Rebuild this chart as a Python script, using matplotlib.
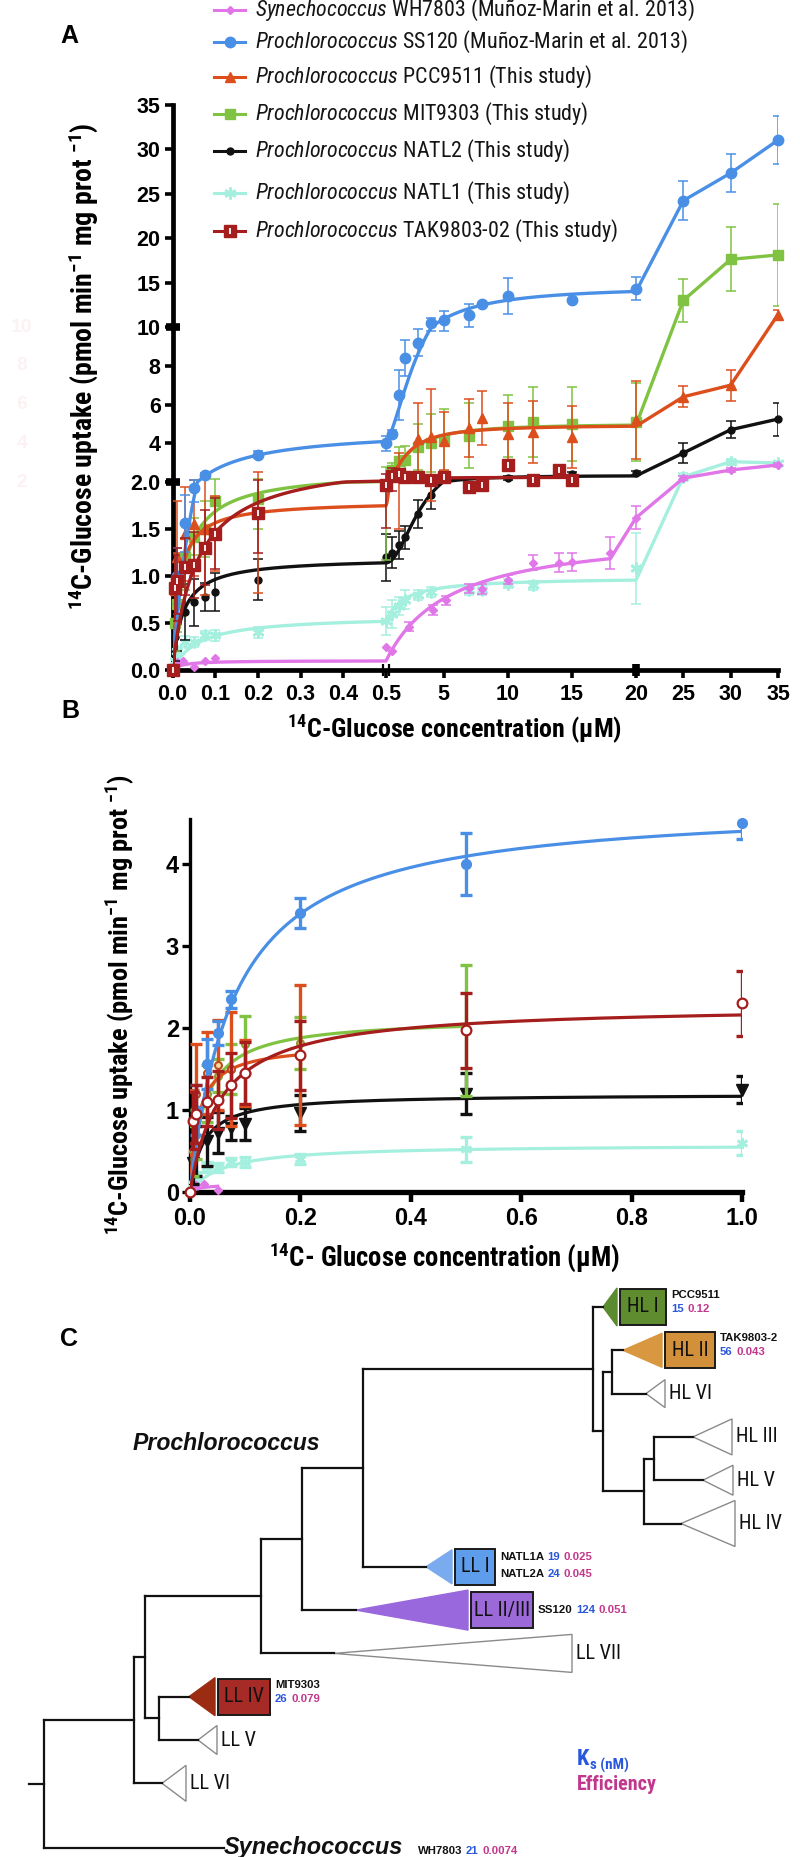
import numpy as np
import matplotlib
matplotlib.use("Agg")
import matplotlib.pyplot as plt
from matplotlib import font_manager as fm
from matplotlib.lines import Line2D
from matplotlib.patches import Polygon, Rectangle
import matplotlib.transforms as mtrans

# ============================ DATA ============================
# 14C-glucose uptake (pmol min-1 mg prot-1) versus glucose concentration (uM)
syn_x = [0.005, 0.01, 0.025, 0.05, 0.075, 0.1, 0.5, 1, 2.3, 4.2, 5.2, 7, 8, 10, 12, 14, 15, 18, 20, 25, 30, 35]
syn_y = [0.05, 0.08, 0.10, 0.03, 0.10, 0.13, 0.25, 0.20, 0.46, 0.64, 0.74, 0.87, 0.86, 0.96, 1.14, 1.14, 1.15, 1.24, 1.62, 2.20, 2.62, 2.88]
syn_e = [0, 0, 0, 0, 0, 0, 0, 0, 0.05, 0.05, 0.05, 0.05, 0.05, 0.05, 0.08, 0.10, 0.10, 0.17, 0.12, 0.10, 0.10, 0.10]

ss120_x = [0.01, 0.03, 0.05, 0.075, 0.2, 0.5, 1, 1.5, 2, 3, 4, 5, 7, 8, 10, 15, 20, 25, 30, 35]
ss120_y = [1.00, 1.56, 1.94, 2.35, 3.40, 4.00, 4.50, 6.50, 8.40, 9.20, 10.4, 10.8, 11.3, 12.6, 13.5, 13.0, 14.3, 24.2, 27.3, 31.0]
ss120_e = [0.30, 0.30, 0.15, 0.10, 0.18, 0.38, 0.20, 1.30, 0.95, 0.70, 0.60, 1.00, 1.30, 0.00, 2.00, 0.00, 1.30, 2.20, 2.10, 2.70]

pcc_x = [0.005, 0.01, 0.03, 0.05, 0.075, 0.1, 0.2, 1.5, 3, 4, 5, 7, 8, 10, 12, 15, 20, 25, 30, 35]
pcc_y = [0.85, 1.20, 1.45, 1.55, 1.50, 1.45, 1.67, 2.50, 4.20, 4.30, 4.10, 4.80, 5.30, 4.50, 4.60, 4.30, 5.20, 6.40, 7.00, 11.4]
pcc_e = [0.40, 0.60, 0.50, 0.55, 0.70, 0.40, 0.85, 1.00, 1.90, 2.50, 1.50, 1.50, 1.40, 1.60, 1.60, 1.60, 2.00, 0.55, 0.80, 0.50]

mit_x = [0.005, 0.01, 0.03, 0.05, 0.075, 0.1, 0.2, 0.5, 1, 1.5, 2, 3, 4, 5, 7, 10, 12, 15, 20, 25, 30, 35]
mit_y = [0.50, 0.70, 1.20, 1.42, 1.50, 1.80, 1.82, 1.97, 2.60, 3.10, 3.15, 3.80, 4.00, 4.15, 4.40, 4.90, 5.10, 5.00, 5.10, 13.0, 17.6, 18.1]
mit_e = [0.30, 0.30, 0.35, 0.20, 0.30, 0.35, 0.32, 0.80, 0.40, 0.70, 0.70, 1.20, 1.50, 1.60, 1.70, 1.60, 1.80, 1.90, 2.00, 2.40, 3.60, 5.70]

natl2_x = [0.005, 0.01, 0.03, 0.05, 0.075, 0.1, 0.2, 0.5, 1, 1.5, 2, 3, 4, 10, 15, 20, 25, 30, 35]
natl2_y = [0.35, 0.50, 0.62, 0.72, 0.78, 0.83, 0.96, 1.20, 1.25, 1.33, 1.41, 1.66, 1.86, 2.20, 2.40, 2.45, 3.50, 4.70, 5.25]
natl2_e = [0.25, 0.30, 0.30, 0.25, 0.15, 0.20, 0.22, 0.25, 0.17, 0.15, 0.12, 0.15, 0.15, 0.10, 0.10, 0.10, 0.50, 0.45, 0.85]

natl1_x = [0.005, 0.01, 0.03, 0.05, 0.075, 0.1, 0.2, 0.5, 1, 1.5, 2, 3, 4, 7, 8, 10, 12, 20, 25, 30, 35]
natl1_y = [0.10, 0.20, 0.30, 0.30, 0.37, 0.37, 0.40, 0.52, 0.60, 0.68, 0.75, 0.80, 0.83, 0.85, 0.85, 0.92, 0.90, 1.08, 2.27, 3.05, 2.98]
natl1_e = [0.05, 0.05, 0.06, 0.05, 0.05, 0.06, 0.06, 0.15, 0.15, 0.10, 0.10, 0.05, 0.05, 0.05, 0.05, 0.05, 0.05, 0.38, 0.20, 0.15, 0.10]

tak_x = [0, 0.005, 0.01, 0.03, 0.05, 0.075, 0.1, 0.2, 0.5, 1, 1.5, 2, 3, 4, 5, 7, 8, 10, 12, 14, 15]
tak_y = [0.00, 0.87, 0.95, 1.10, 1.12, 1.30, 1.45, 1.67, 1.97, 2.30, 2.40, 2.25, 2.25, 2.10, 2.25, 1.95, 1.97, 2.90, 2.10, 2.60, 2.10]
tak_e = [0.00, 0.35, 0.35, 0.30, 0.35, 0.40, 0.38, 0.42, 0.46, 0.40, 0, 0, 0, 0, 0, 0, 0, 0, 0, 0, 0]

# fitted kinetics: first (high affinity) phase, Michaelis-Menten  Vmax*S/(Km+S)
km1 = {"syn": 0.021, "ss120": 0.08, "pcc": 0.015, "mit": 0.026, "natl2": 0.024, "natl1": 0.06, "tak": 0.056}
vmax1 = {"syn": 0.10, "ss120": 4.75, "pcc": 1.80, "mit": 2.125, "natl2": 1.195, "natl1": 0.58, "tak": 2.28}
# second phase above 0.5 uM (Hill type)
amp2 = {"syn": 1.4, "ss120": 10.5, "pcc": 3.2, "mit": 3.0, "natl2": 1.2, "natl1": 0.47, "tak": 0.2}
k2 = {"syn": 5.0, "ss120": 3.0, "pcc": 1.5, "mit": 1.8, "natl2": 2.8, "natl1": 1.4, "tak": 1.0}
hill2 = {"syn": 1.0, "ss120": 1.5, "pcc": 1.5, "mit": 1.5, "natl2": 2.0, "natl1": 1.0, "tak": 1.0}
end2 = {"syn": 18, "ss120": 20, "pcc": 20, "mit": 20, "natl2": 20, "natl1": 20, "tak": 15}
# extent of each strain in panel B
b_end = {"syn": 0.05, "ss120": 1.0, "pcc": 0.2, "mit": 0.5, "natl2": 1.0, "natl1": 1.0, "tak": 1.0}

series_keys = ["syn", "ss120", "pcc", "mit", "natl2", "natl1", "tak"]
legend_genus = ["Synechococcus", "Prochlorococcus", "Prochlorococcus", "Prochlorococcus",
                "Prochlorococcus", "Prochlorococcus", "Prochlorococcus"]
legend_rest = [" WH7803 (Muñoz-Marin et al. 2013)", " SS120 (Muñoz-Marin et al. 2013)",
               " PCC9511 (This study)", " MIT9303 (This study)", " NATL2 (This study)",
               " NATL1 (This study)", " TAK9803-02 (This study)"]

a_yticks = [0, 0.5, 1.0, 1.5, 2.0, 4, 6, 8, 10, 15, 20, 25, 30, 35]
a_yticklabels = ["0.0", "0.5", "1.0", "1.5", "2.0", "4", "6", "8", "10", "15", "20", "25", "30", "35"]
a_xticks = [0, 0.1, 0.2, 0.3, 0.4, 0.5, 5, 10, 15, 20, 25, 30, 35]
a_xticklabels = ["0.0", "0.1", "0.2", "0.3", "0.4", "0.5", "5", "10", "15", "20", "25", "30", "35"]
a_ybreaks = [2.0, 10]
a_xbreak_double = 0.5
a_xbreak_block = 20
ghost_ticks = [10, 8, 6, 4, 2]

b_yticks = [0, 1, 2, 3, 4]
b_xticks = [0.0, 0.2, 0.4, 0.6, 0.8, 1.0]

# Panel C: phylogeny (node depth in drawing units, leaf order in rows)
tree_children = {
    "root": ["n134", "Synechococcus"], "n134": ["n145", "LL VI"], "n145": ["n261", "n159"],
    "n159": ["LL IV", "LL V"], "n261": ["n302", "LL VII"], "n302": ["n363", "LL II/III"],
    "n363": ["n593", "LL I"], "n593": ["HL I", "n603"], "n603": ["n612", "n644"],
    "n612": ["HL II", "HL VI"], "n644": ["n654", "HL IV"], "n654": ["HL III", "HL V"],
}
node_depth = {"root": 44, "n134": 134, "n145": 145, "n159": 159, "n261": 261, "n302": 302,
              "n363": 363, "n593": 593, "n603": 603, "n612": 612, "n644": 644, "n654": 654}
root_stem = 29
leaf_row = {"HL I": 0, "HL II": 1, "HL VI": 2, "HL III": 3, "HL V": 4, "HL IV": 5, "LL I": 6,
            "LL II/III": 7, "LL VII": 8, "LL IV": 9, "LL V": 10, "LL VI": 11, "Synechococcus": 12.5}
leaf_tip = {"HL I": 603, "HL II": 623, "HL VI": 646, "HL III": 693, "HL V": 703, "HL IV": 681,
            "LL I": 426, "LL II/III": 356, "LL VII": 334, "LL IV": 189, "LL V": 198, "LL VI": 162,
            "Synechococcus": 224}
clade_base = {"HL I": 617, "HL II": 662, "HL VI": 665, "HL III": 732, "HL V": 733, "HL IV": 735,
              "LL I": 452, "LL II/III": 468, "LL VII": 572, "LL IV": 215, "LL V": 217, "LL VI": 186}
clade_half = {"HL I": 19, "HL II": 17, "HL VI": 14, "HL III": 18, "HL V": 15, "HL IV": 23,
              "LL I": 17, "LL II/III": 20, "LL VII": 19, "LL IV": 19, "LL V": 14.5, "LL VI": 18}
boxed_width = {"HL I": 46, "HL II": 50, "LL I": 40, "LL II/III": 62, "LL IV": 52}
strain_name = {"HL I": ["PCC9511"], "HL II": ["TAK9803-2"], "LL I": ["NATL1A", "NATL2A"],
               "LL II/III": ["SS120"], "LL IV": ["MIT9303"], "Synechococcus": ["WH7803"]}
strain_ks = {"HL I": ["15"], "HL II": ["56"], "LL I": ["19", "24"], "LL II/III": ["124"],
             "LL IV": ["26"], "Synechococcus": ["21"]}
strain_eff = {"HL I": ["0.12"], "HL II": ["0.043"], "LL I": ["0.025", "0.045"], "LL II/III": ["0.051"],
              "LL IV": ["0.079"], "Synechococcus": ["0.0074"]}

# ============================ STYLE ============================
_names = {f.name for f in fm.fontManager.ttflist}
COND = "Liberation Sans"
for cand in ["Liberation Sans Narrow", "Arial Narrow", "Roboto Condensed", "Open Sans Condensed"]:
    if cand in _names:
        COND = cand
        break
PLAIN = "Liberation Sans"

plt.rcParams["font.family"] = [COND, PLAIN, "DejaVu Sans"]
plt.rcParams["mathtext.fontset"] = "custom"
plt.rcParams["mathtext.rm"] = COND
plt.rcParams["mathtext.it"] = COND + ":italic"
plt.rcParams["mathtext.bf"] = COND + ":bold"

COL = {"syn": "#e076e8", "ss120": "#4a8fe6", "pcc": "#dc4e1c", "mit": "#80c343",
       "natl2": "#111111", "natl1": "#a5efdf", "tak": "#a51d1d"}
A_MARK = {"syn": dict(marker="D", ms=4.5), "ss120": dict(marker="o", ms=7.5),
          "pcc": dict(marker="^", ms=7.5), "mit": dict(marker="s", ms=7),
          "natl2": dict(marker="o", ms=5), "natl1": dict(marker=(6, 2, 0), ms=8.5, mew=2),
          "tak": dict(marker="s", ms=9)}
B_MARK = {"syn": dict(marker="D", ms=4.5), "ss120": dict(marker="o", ms=7),
          "pcc": dict(marker="o", ms=5, mfc="#f2dca0", mec="#c04a1c", mew=1.5),
          "mit": dict(marker="o", ms=5, mfc="#efe4a0", mec="#8a9a30", mew=1.5),
          "natl2": dict(marker="v", ms=9), "natl1": dict(marker=(6, 2, 0), ms=8, mew=2),
          "tak": dict(marker="o", ms=7, mfc="white", mec="#a51d1d", mew=1.6)}
ZORD = {"natl1": 3, "syn": 4, "natl2": 5, "mit": 6, "pcc": 7, "ss120": 8, "tak": 9}

W, H = 800, 1857
fig = plt.figure(figsize=(W / 100, H / 100), dpi=100)
R = fig.canvas.get_renderer()


def fx(px):
    return px / W


def fy(py):
    return 1 - py / H


def fit_size(s, target_px, **kw):
    t = fig.text(0, 0, s, fontsize=10, **kw)
    w = t.get_window_extent(renderer=R).width
    t.remove()
    return 10.0 * target_px / w


YLAB = r"$^{\mathbf{14}}$C-Glucose uptake (pmol min$^{\mathbf{-1}}$ mg prot $^{\mathbf{-1}}$)"
XLAB_A = r"$^{\mathbf{14}}$C-Glucose concentration (µM)"
XLAB_B = r"$^{\mathbf{14}}$C- Glucose concentration (µM)"
labels = [r"$\mathit{%s}$%s" % (g, r) for g, r in zip(legend_genus, legend_rest)]

FS_TICK_A = 15.5
FS_TICK_B = 17
FS_LEG = fit_size(labels[1], 434)
FS_YLAB_A = fit_size(YLAB, 488, fontweight="bold")
FS_YLAB_B = fit_size(YLAB, 462, fontweight="bold")
FS_XLAB_A = fit_size(XLAB_A, 336, fontweight="bold")
FS_XLAB_B = fit_size(XLAB_B, 352, fontweight="bold")
FS_PRO = fit_size("Prochlorococcus", 188, fontweight="bold", fontstyle="italic", family=PLAIN)
FS_SYN = fit_size("Synechococcus", 179, fontweight="bold", fontstyle="italic", family=PLAIN)
FS_CLADE = fit_size("HL VI", 43)
FS_STRAIN = fit_size("TAK9803-2", 58, fontweight="bold", family=PLAIN)
FS_EFF = fit_size("Efficiency", 80, fontweight="bold")


def seg_funcs(bp, fr):
    bp = np.asarray(bp, float)
    fr = np.asarray(fr, float)

    def make(a, b):
        s0 = (b[1] - b[0]) / (a[1] - a[0])
        s1 = (b[-1] - b[-2]) / (a[-1] - a[-2])

        def f(v):
            v = np.asarray(v, float)
            out = np.interp(v, a, b)
            out = np.where(v < a[0], b[0] + (v - a[0]) * s0, out)
            out = np.where(v > a[-1], b[-1] + (v - a[-1]) * s1, out)
            return out
        return f
    return make(bp, fr), make(fr, bp)


def phase1(k, u):
    u = np.asarray(u, float)
    return vmax1[k] * u / (km1[k] + u)


def phase2(k, u):
    s = np.clip(np.asarray(u, float) - 0.5, 0, None)
    n = hill2[k]
    return phase1(k, 0.5) + amp2[k] * s ** n / (k2[k] ** n + s ** n)


DATA = {"syn": (syn_x, syn_y, syn_e), "ss120": (ss120_x, ss120_y, ss120_e),
        "pcc": (pcc_x, pcc_y, pcc_e), "mit": (mit_x, mit_y, mit_e),
        "natl2": (natl2_x, natl2_y, natl2_e), "natl1": (natl1_x, natl1_y, natl1_e),
        "tak": (tak_x, tak_y, tak_e)}

# ============================ PANEL A ============================
A_L, A_R, A_T, A_B = 172.5, 778, 104.5, 670
axA = fig.add_axes([fx(A_L), fy(A_B), (A_R - A_L) / W, (A_B - A_T) / H])
axA.set_xscale("function", functions=seg_funcs([0, 0.5, 20, 35], [0, 0.3526, 0.7655, 1.0]))
axA.set_yscale("function", functions=seg_funcs([0, 2, 10, 35], [0, 0.3324, 0.6065, 1.0]))
axA.set_xlim(0, 35)
axA.set_ylim(0, 35)

for k in series_keys:
    c = COL[k]
    x, y, e = (np.asarray(v, float) for v in DATA[k])
    u1 = np.concatenate([[0.0], np.geomspace(1e-4, 0.5, 250)])
    u2 = np.linspace(0.5, end2[k], 300)
    tail = x > end2[k]
    lx = np.concatenate([u1, u2, x[tail]])
    ly = np.concatenate([phase1(k, u1), phase2(k, u2), y[tail]])
    z = ZORD[k]
    axA.plot(lx, ly, color=c, lw=2.4, zorder=z, solid_joinstyle="round")
    m = e > 0
    axA.errorbar(x[m], y[m], yerr=e[m], fmt="none", ecolor=c, elinewidth=1.1,
                 capsize=3.8, capthick=1.1, zorder=z)
    st = dict(A_MARK[k])
    axA.plot(x, y, ls="none", color=c, mec=c, zorder=z + 0.5, clip_on=False, **st)
    if k == "tak":
        axA.plot(x, y, ls="none", marker="|", ms=4, mew=1.3, color="white",
                 zorder=z + 0.6, clip_on=False)

axA.set_yticks(a_yticks)
axA.set_yticklabels(a_yticklabels)
axA.set_xticks(a_xticks)
axA.set_xticklabels(a_xticklabels)
axA.minorticks_off()
for s in ("top", "right"):
    axA.spines[s].set_visible(False)
for s in ("left", "bottom"):
    axA.spines[s].set_linewidth(3.4)
axA.tick_params(axis="both", which="major", direction="out", length=6, width=2.6, labelsize=FS_TICK_A)
axA.tick_params(axis="y", pad=2.5)
axA.tick_params(axis="x", pad=4)
for lab in axA.get_xticklabels() + axA.get_yticklabels():
    lab.set_fontweight("bold")
    lab.set_family(PLAIN)

btY = mtrans.blended_transform_factory(axA.transAxes, axA.transData)
for v in a_ybreaks:
    axA.plot([0], [v], marker="_", ms=10, mew=5.5, color="k", transform=btY, clip_on=False, zorder=12)
btX = mtrans.blended_transform_factory(axA.transData, axA.transAxes)
axA.plot([a_xbreak_block], [0], marker="|", ms=9, mew=5.5, color="k", transform=btX, clip_on=False, zorder=12)
for dx in (-3, 3):
    tr = mtrans.offset_copy(btX, fig=fig, x=dx, y=0, units="dots")
    axA.plot([a_xbreak_double], [0], marker="|", ms=9, mew=1.6, color="k", transform=tr,
             clip_on=False, zorder=12)

ghost_tr = mtrans.blended_transform_factory(fig.transFigure, axA.transData)
for v in ghost_ticks:
    axA.text(fx(22), v, str(v), transform=ghost_tr, color="#fcf1f3", fontsize=FS_TICK_A * 0.9,
             fontweight="bold", family=PLAIN, ha="center", va="center", clip_on=False)

# legend (one row per strain)
LEG_ROWS = [10, 42, 77, 114, 151, 193, 231]
LEG_H0, LEG_H1, LEG_TX = 214, 245, 255
for k, lab, yy in zip(series_keys, labels, LEG_ROWS):
    c = COL[k]
    fig.add_artist(Line2D([fx(LEG_H0), fx(LEG_H1)], [fy(yy), fy(yy)], color=c, lw=2.2,
                          transform=fig.transFigure))
    st = dict(A_MARK[k])
    fig.add_artist(Line2D([fx((LEG_H0 + LEG_H1) / 2)], [fy(yy)], ls="none", color=c, mec=c,
                          transform=fig.transFigure, **st))
    if k == "tak":
        fig.add_artist(Line2D([fx((LEG_H0 + LEG_H1) / 2)], [fy(yy)], ls="none", marker="|", ms=4,
                              mew=1.3, color="white", transform=fig.transFigure))
    fig.text(fx(LEG_TX), fy(yy), lab, ha="left", va="center", fontsize=FS_LEG, color="#151515")

fig.text(fx(83), fy(366), YLAB, rotation=90, ha="center", va="center", fontsize=FS_YLAB_A,
         fontweight="bold")
fig.text(fx(454), fy(729), XLAB_A, ha="center", va="center", fontsize=FS_XLAB_A, fontweight="bold")

# ============================ PANEL B ============================
B_L, B_R, B_B = 190, 742, 1192
B_TOPV = 4.55
B_PX = 82.0
axB = fig.add_axes([fx(B_L), fy(B_B), (B_R - B_L) / W, B_TOPV * B_PX / H])
axB.set_xlim(0, 1.0)
axB.set_ylim(0, B_TOPV)
for k in series_keys:
    c = COL[k]
    x, y, e = (np.asarray(v, float) for v in DATA[k])
    z = ZORD[k]
    uu = np.concatenate([[0.0], np.geomspace(1e-4, b_end[k], 250)])
    axB.plot(uu, phase1(k, uu), color=c, lw=2.3, zorder=z)
    sel = x <= b_end[k] + 1e-9
    m = sel & (e > 0)
    axB.errorbar(x[m], y[m], yerr=e[m], fmt="none", ecolor=c, elinewidth=2.4,
                 capsize=4.5, capthick=2.4, zorder=z)
    st = dict(B_MARK[k])
    st.setdefault("mfc", c)
    st.setdefault("mec", c)
    axB.plot(x[sel], y[sel], ls="none", color=c, zorder=z + 0.5, clip_on=False, **st)

axB.set_yticks(b_yticks)
axB.set_yticklabels([str(v) for v in b_yticks])
axB.set_xticks(b_xticks)
axB.set_xticklabels(["%.1f" % v for v in b_xticks])
for s in ("top", "right"):
    axB.spines[s].set_visible(False)
axB.spines["left"].set_linewidth(2.4)
axB.spines["bottom"].set_linewidth(3.8)
axB.tick_params(axis="y", direction="out", length=6, width=2.4, labelsize=FS_TICK_B, pad=2)
axB.tick_params(axis="x", direction="out", length=7, width=3.2, labelsize=FS_TICK_B, pad=4)
for lab in axB.get_xticklabels() + axB.get_yticklabels():
    lab.set_fontweight("bold")
    lab.set_family(PLAIN)

fig.text(fx(120), fy(1004), YLAB, rotation=90, ha="center", va="center", fontsize=FS_YLAB_B,
         fontweight="bold")
fig.text(fx(444), fy(1257), XLAB_B, ha="center", va="center", fontsize=FS_XLAB_B, fontweight="bold")

# ============================ PANEL C ============================
ROW0, ROW_PX = 1307.0, 43.3
C_TOP = 1280
axC = fig.add_axes([0, 0, 1, (H - C_TOP) / H])
axC.set_xlim(0, W)
axC.set_ylim((H - ROW0) / ROW_PX, (C_TOP - ROW0) / ROW_PX)
axC.axis("off")


def node_row(n):
    if n in leaf_row:
        return leaf_row[n]
    ch = tree_children[n]
    return (node_row(ch[0]) + node_row(ch[-1])) / 2


def node_x(n):
    return node_depth[n] if n in node_depth else leaf_tip[n]


LW_T = 1.6
for n, ch in tree_children.items():
    x0 = node_depth[n]
    rows = [node_row(c) for c in ch]
    axC.plot([x0, x0], [min(rows), max(rows)], color="#111111", lw=LW_T, solid_capstyle="projecting")
    for c, r in zip(ch, rows):
        axC.plot([x0, node_x(c)], [r, r], color="#111111", lw=LW_T, solid_capstyle="projecting")
axC.plot([root_stem, node_depth["root"]], [node_row("root")] * 2, color="#111111", lw=LW_T)

TRI_FILL = {"HL I": "#5b8a2f", "HL II": "#d9973f", "LL I": "#7aabee", "LL II/III": "#9a68dd", "LL IV": "#9b2c12"}
BOX_FILL = {"HL I": "#5e8c2f", "HL II": "#d3903b", "LL I": "#5e9cec", "LL II/III": "#9b6ad8", "LL IV": "#a62a25"}
BOX_HALF = 18 / ROW_PX


def draw_pieces(x, y, parts, fs, weight="bold", gap=3.5, family=PLAIN, va="center"):
    dx = 0.0
    for txt, col in parts:
        tr = mtrans.offset_copy(axC.transData, fig=fig, x=dx, y=0, units="dots")
        t = axC.text(x, y, txt, transform=tr, color=col, fontsize=fs, fontweight=weight,
                     family=family, ha="left", va=va)
        dx += t.get_window_extent(renderer=R).width + gap


KS_C, EF_C = "#2a58dc", "#c2378c"
for name, r in leaf_row.items():
    if name == "Synechococcus":
        continue
    tip, base, h = leaf_tip[name], clade_base[name], clade_half[name] / ROW_PX
    boxed = name in boxed_width
    fc = TRI_FILL.get(name, "white")
    ec = fc if boxed else "#8a8a8a"
    axC.add_patch(Polygon([[tip, r], [base, r - h], [base, r + h]], closed=True, fc=fc, ec=ec, lw=1.0))
    if boxed:
        bx = base + 3
        bw = boxed_width[name]
        axC.add_patch(Rectangle((bx, r - BOX_HALF), bw, 2 * BOX_HALF, fc=BOX_FILL[name],
                                ec="#1a1a1a", lw=1.4))
        axC.text(bx + bw / 2, r, name, ha="center", va="center", fontsize=FS_CLADE, color="#111111")
        sx = bx + bw + 5
        names, kss, effs = strain_name[name], strain_ks[name], strain_eff[name]
        if name in ("HL I", "HL II", "LL IV"):
            draw_pieces(sx, r - 12 / ROW_PX, [(names[0], "#111111")], FS_STRAIN)
            draw_pieces(sx, r + 2 / ROW_PX, [(kss[0], KS_C), (effs[0], EF_C)], FS_STRAIN)
        else:
            offs = [-10, 7] if len(names) == 2 else [0]
            for nm, ks, ef, o in zip(names, kss, effs, offs):
                draw_pieces(sx, r + o / ROW_PX, [(nm, "#111111"), (ks, KS_C), (ef, EF_C)], FS_STRAIN)
    else:
        axC.text(base + 4, r, name, ha="left", va="center", fontsize=FS_CLADE, color="#111111")

rs = leaf_row["Synechococcus"]
axC.text(leaf_tip["Synechococcus"], rs + 6 / ROW_PX, "Synechococcus", ha="left", va="baseline",
         fontsize=FS_SYN, fontweight="bold", fontstyle="italic", family=PLAIN, color="#111111")
draw_pieces(418, rs + 6 / ROW_PX, [(strain_name["Synechococcus"][0], "#111111"),
                                   (strain_ks["Synechococcus"][0], KS_C),
                                   (strain_eff["Synechococcus"][0], EF_C)], FS_STRAIN, va="baseline")
axC.text(133, (1443 - ROW0) / ROW_PX, "Prochlorococcus", ha="left", va="center",
         fontsize=FS_PRO, fontweight="bold", fontstyle="italic", family=PLAIN, color="#111111")

# Ks / efficiency key
ky = (1759 - ROW0) / ROW_PX
t = axC.text(577, ky, "K", ha="left", va="center", fontsize=FS_EFF * 1.1, fontweight="bold", color=KS_C)
kw = t.get_window_extent(renderer=R).width
axC.text(577, ky, "s (nM)", transform=mtrans.offset_copy(axC.transData, fig=fig, x=kw + 1, y=-6, units="dots"),
         ha="left", va="center", fontsize=FS_EFF * 0.75, fontweight="bold", color=KS_C)
axC.text(577, (1784 - ROW0) / ROW_PX, "Efficiency", ha="left", va="center", fontsize=FS_EFF,
         fontweight="bold", color=EF_C)

# panel letters
for letter, (px, py) in {"A": (69, 36), "B": (70, 711), "C": (69, 1339)}.items():
    fig.text(fx(px), fy(py), letter, ha="center", va="center", fontsize=18,
             fontweight="bold", family=PLAIN)

fig.savefig("out.png", dpi=100)
